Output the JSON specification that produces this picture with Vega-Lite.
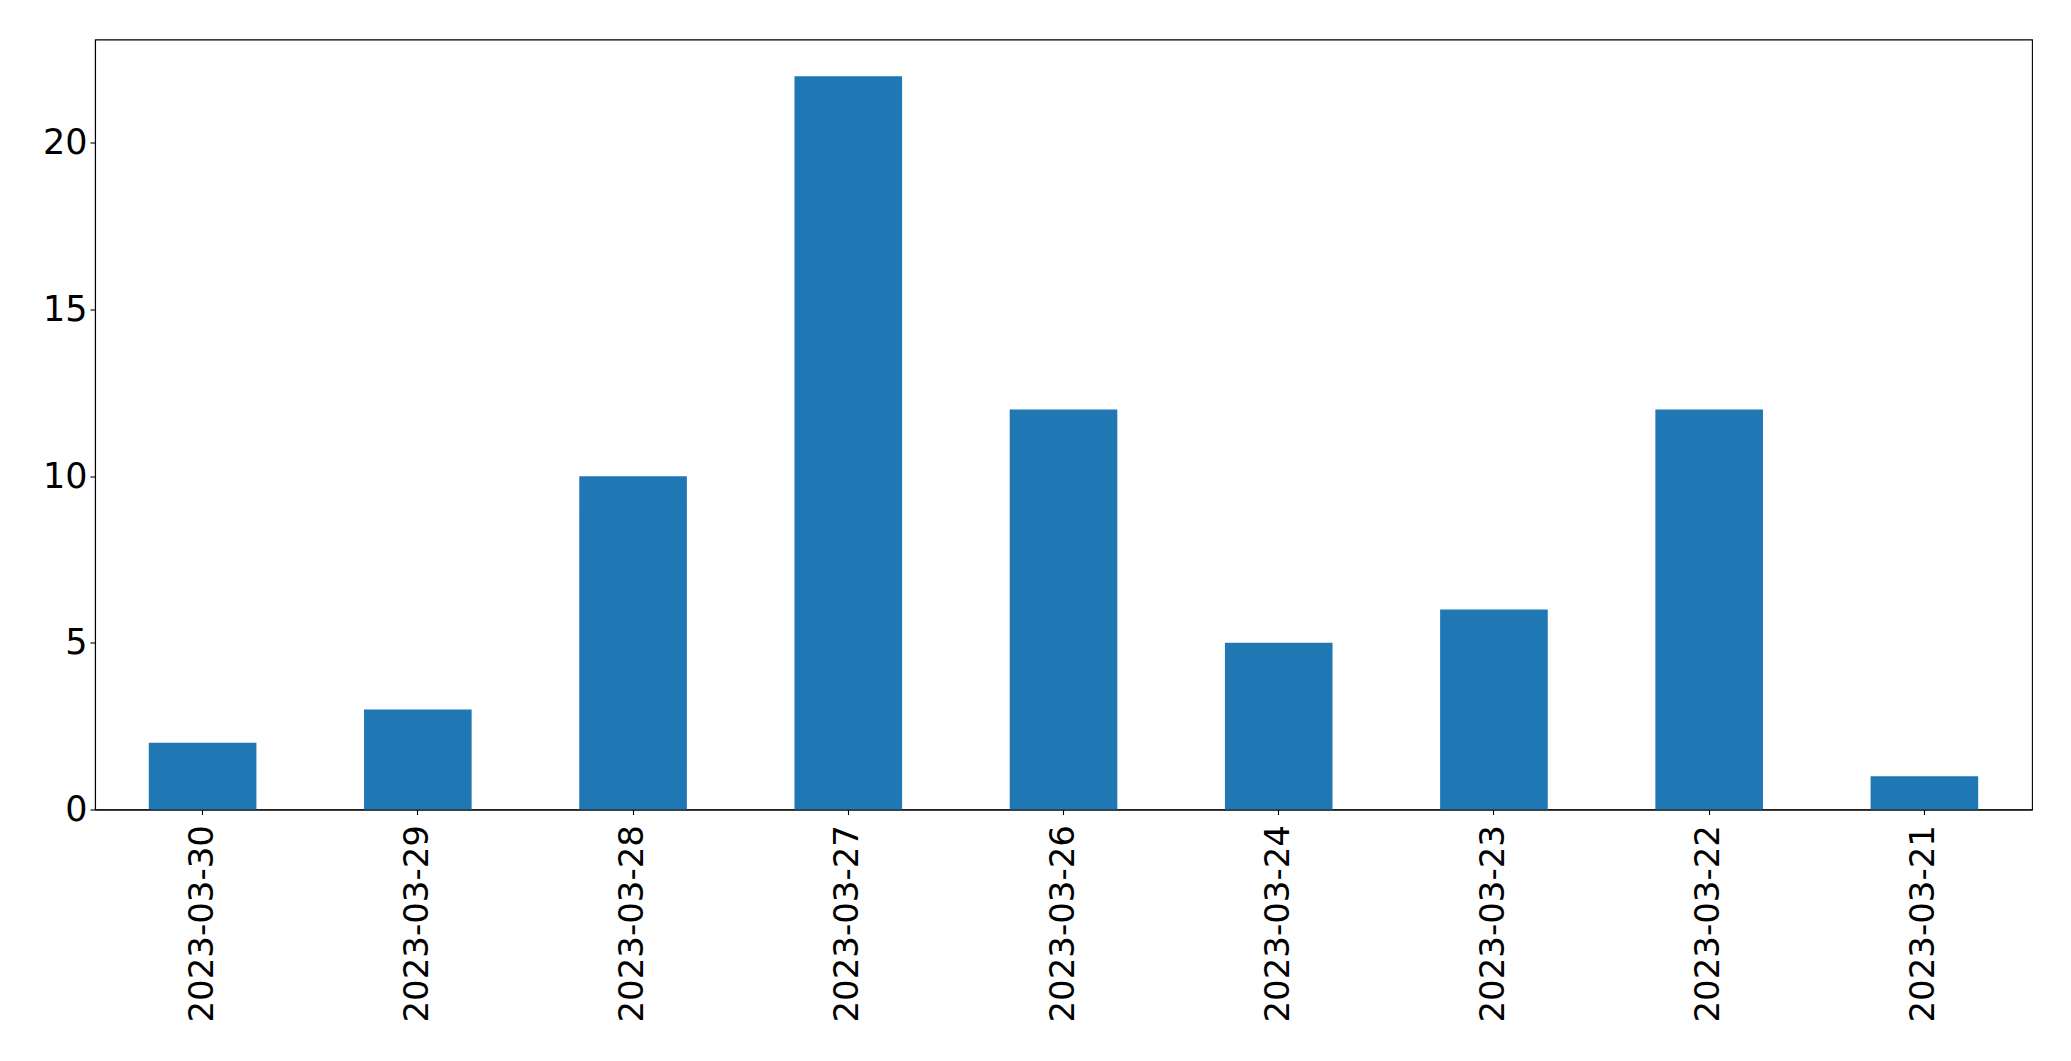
{
  "$schema": "https://vega.github.io/schema/vega-lite/v6.json",
  "autosize": "none",
  "padding": {"left": 95, "top": 39.5, "right": 39, "bottom": 252},
  "width": 1937,
  "height": 770,
  "background": "white",
  "data": {
    "values": [
      {"date": "2023-03-30", "count": 2},
      {"date": "2023-03-29", "count": 3},
      {"date": "2023-03-28", "count": 10},
      {"date": "2023-03-27", "count": 22},
      {"date": "2023-03-26", "count": 12},
      {"date": "2023-03-24", "count": 5},
      {"date": "2023-03-23", "count": 6},
      {"date": "2023-03-22", "count": 12},
      {"date": "2023-03-21", "count": 1}
    ]
  },
  "mark": {"type": "bar", "color": "#1f77b4"},
  "encoding": {
    "x": {
      "field": "date",
      "type": "nominal",
      "sort": null,
      "scale": {"paddingInner": 0.5, "paddingOuter": 0.25},
      "axis": {
        "title": null,
        "labelAngle": -90,
        "labelAlign": "right",
        "labelBaseline": "middle",
        "labelPadding": 10,
        "labelLimit": 0,
        "tickSize": 5,
        "labelFontSize": 34
      }
    },
    "y": {
      "field": "count",
      "type": "quantitative",
      "scale": {"domain": [0, 23.1], "nice": false, "zero": true},
      "axis": {
        "title": null,
        "values": [0, 5, 10, 15, 20],
        "grid": false,
        "tickSize": 5,
        "labelPadding": 3,
        "labelFontSize": 35
      }
    }
  },
  "config": {
    "view": {"stroke": "black", "strokeWidth": 1.1},
    "axis": {
      "domainColor": "black",
      "domainWidth": 1.1,
      "tickColor": "black",
      "tickWidth": 1.1,
      "labelColor": "black",
      "labelFont": "DejaVu Sans",
      "labelFontWeight": "normal",
      "labelLimit": 0
    }
  }
}
